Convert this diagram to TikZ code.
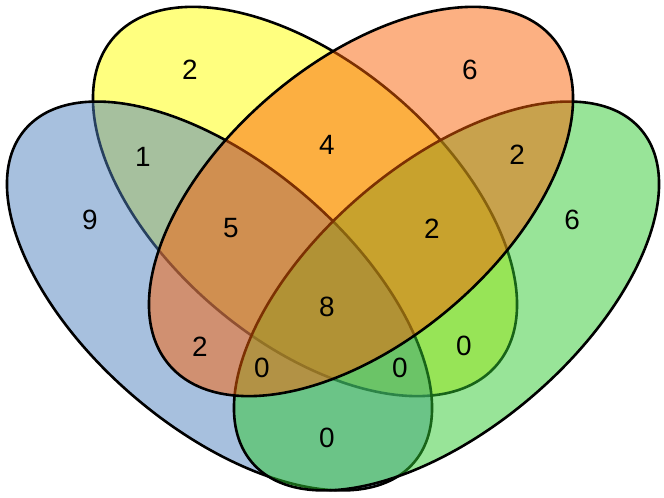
\documentclass[tikz,border=0pt]{standalone}
\usepackage{fontspec}
\setmainfont{Liberation Sans}
\usepackage{tikz}

\definecolor{setyellow}{RGB}{255,255,0}
\definecolor{setblue}{RGB}{79,129,189}
\definecolor{setgreen}{RGB}{49,201,49}
\definecolor{setred}{RGB}{249,97,5}

\begin{document}
\begin{tikzpicture}[
  x=1bp, y=1bp,
  font=\fontsize{28}{32}\selectfont,
  every node/.style={align=center, inner sep=0pt},
  venn/.style={draw=black, line width=2.6bp, fill opacity=0.5},
  count/.style={text=black}
]
\useasboundingbox (0,0) rectangle (664,498);

% --- Sets (drawn in this order so borders sit under later fills) ---
\draw[venn, fill=setyellow, rotate around={-40.4:(305,296.5)}]
  (305,296.5) ellipse [x radius=252, y radius=139];
\draw[venn, fill=setblue, rotate around={-40.6:(219.5,202)}]
  (219.5,202) ellipse [x radius=256, y radius=132];
\draw[venn, fill=setgreen, rotate around={40.6:(446.5,202)}]
  (446.5,202) ellipse [x radius=256, y radius=132];
\draw[venn, fill=setred, rotate around={40.4:(361,296.5)}]
  (361,296.5) ellipse [x radius=252, y radius=139];

% --- Region counts ---
\node[count] (yOnly)   at (190,428) {2};
\node[count] (rOnly)   at (470,428) {6};
\node[count] (by)      at (143,341) {1};
\node[count] (yr)      at (327,353) {4};
\node[count] (rg)      at (517,343) {2};
\node[count] (bOnly)   at (90,278)  {9};
\node[count] (byr)     at (231,270) {5};
\node[count] (yrg)     at (432,269) {2};
\node[count] (gOnly)   at (572,278) {6};
\node[count] (byrg)    at (327,191) {8};
\node[count] (br)      at (200,151) {2};
\node[count] (brg)     at (262,130) {0};
\node[count] (byg)     at (400,130) {0};
\node[count] (yg)      at (464,152) {0};
\node[count] (bg)      at (327,60)  {0};

\end{tikzpicture}
\end{document}
